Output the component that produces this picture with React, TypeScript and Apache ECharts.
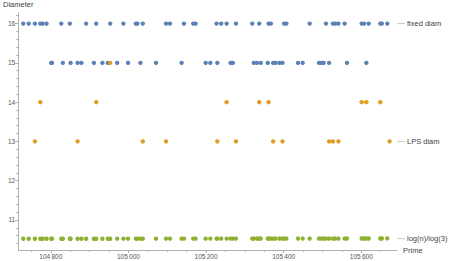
import React, { useEffect, useRef } from "react";
import * as echarts from "echarts";

const primes = [
  104729, 104743, 104759, 104773, 104779, 104789, 104801, 104803, 104827, 104831,
  104849, 104851, 104869, 104879, 104891, 104911, 104917, 104933, 104947, 104953,
  104971, 104987, 104999, 105019, 105023, 105031, 105037, 105071, 105097, 105107,
  105137, 105143, 105167, 105173, 105199, 105211, 105227, 105229, 105239, 105253,
  105263, 105269, 105277, 105319, 105323, 105331, 105337, 105341, 105359, 105361,
  105367, 105373, 105379, 105389, 105397, 105401, 105407, 105437, 105449, 105467,
  105491, 105497, 105503, 105509, 105517, 105527, 105533, 105541, 105557, 105563,
  105601, 105607, 105613, 105619, 105649, 105653, 105667,
];

const fixedDiam = [
  16, 16, 16, 16, 16, 16, 15, 15, 16, 15,
  16, 15, 15, 15, 16, 15, 16, 15, 15, 16,
  15, 16, 15, 16, 16, 15, 16, 15, 16, 16,
  15, 16, 16, 16, 15, 15, 16, 15, 16, 16,
  15, 15, 16, 16, 15, 15, 16, 15, 15, 16,
  16, 15, 15, 15, 15, 16, 16, 15, 15, 16,
  15, 15, 15, 16, 15, 16, 16, 16, 16, 15,
  16, 16, 15, 16, 16, 16, 16,
];

const logRatio = [
  10.522, 10.522, 10.522, 10.522, 10.522, 10.522, 10.522, 10.522, 10.522, 10.522,
  10.522, 10.523, 10.523, 10.523, 10.523, 10.523, 10.523, 10.523, 10.523, 10.523,
  10.524, 10.524, 10.524, 10.524, 10.524, 10.524, 10.524, 10.524, 10.525, 10.525,
  10.525, 10.525, 10.525, 10.525, 10.525, 10.526, 10.526, 10.526, 10.526, 10.526,
  10.526, 10.526, 10.526, 10.526, 10.527, 10.527, 10.527, 10.527, 10.527, 10.527,
  10.527, 10.527, 10.527, 10.527, 10.527, 10.527, 10.527, 10.527, 10.528, 10.528,
  10.528, 10.528, 10.528, 10.528, 10.528, 10.528, 10.528, 10.528, 10.528, 10.529,
  10.529, 10.529, 10.529, 10.529, 10.529, 10.529, 10.53,
];

const lpsPrimes = [
  104759, 104773, 104869, 104917, 104953, 105037, 105097, 105229, 105253, 105277,
  105337, 105361, 105373, 105397, 105517, 105527, 105541, 105601, 105613, 105649,
  105673,
];
const lpsDiam = [
  13, 14, 13, 14, 15, 13, 13, 13, 14, 13,
  14, 14, 13, 13, 13, 13, 13, 14, 14, 14,
  13,
];

const xTicks = [104800, 105000, 105200, 105400, 105600];
const xMinorTicks = [
  104750, 104850, 104900, 104950, 105050, 105100, 105150, 105250, 105300, 105350,
  105450, 105500, 105550, 105650,
];
const yTicks = [11, 12, 13, 14, 15, 16];
const yMinorTicks = [
  10.4, 10.6, 10.8, 11.2, 11.4, 11.6, 11.8, 12.2, 12.4, 12.6, 12.8, 13.2, 13.4,
  13.6, 13.8, 14.2, 14.4, 14.6, 14.8, 15.2, 15.4, 15.6, 15.8, 16.2,
];

const X_MIN = 104716;
const X_MAX = 105692;
const Y_MIN = 10.236;
const Y_MAX = 16.27;

const FONT = "'Liberation Sans', Arial, sans-serif";
const AXIS_COLOR = "#b0b0b0";
const LABEL_COLOR = "#555";

const fmt = (v: number) => {
  const s = String(Math.round(v));
  return s.slice(0, s.length - 3) + "\u2009" + s.slice(s.length - 3);
};

export default function App() {
  const ref = useRef<HTMLDivElement>(null);
  useEffect(() => {
    if (!ref.current) return;
    const chart = echarts.init(ref.current, null, { renderer: "svg" });
    const dot = 4.4;
    const option: any = {
      animation: false,
      backgroundColor: "#fff",
      textStyle: { fontFamily: FONT },
      grid: { left: 14, right: 52, top: 13, bottom: 11, containLabel: false },
      xAxis: [
        {
          type: "value",
          min: X_MIN,
          max: X_MAX,
          position: "bottom",
          name: "Prime",
          nameLocation: "end",
          nameGap: 6,
          nameTextStyle: { fontSize: 7.5, color: "#444", fontFamily: FONT },
          axisLine: { show: true, onZero: false, lineStyle: { color: AXIS_COLOR, width: 1 } },
          axisTick: { show: true, length: 3, customValues: xTicks, lineStyle: { color: AXIS_COLOR } },
          axisLabel: {
            show: true,
            customValues: xTicks,
            formatter: fmt,
            fontSize: 6.5,
            color: LABEL_COLOR,
            margin: 3,
            fontFamily: FONT,
          },
          splitLine: { show: false },
        },
        {
          type: "value",
          min: X_MIN,
          max: X_MAX,
          position: "bottom",
          axisLine: { show: false },
          axisTick: { show: true, length: 2, customValues: xMinorTicks, lineStyle: { color: AXIS_COLOR } },
          axisLabel: { show: false },
          splitLine: { show: false },
        },
      ],
      yAxis: [
        {
          type: "value",
          min: Y_MIN,
          max: Y_MAX,
          position: "left",
          name: "Diameter",
          nameLocation: "end",
          nameGap: 5,
          nameTextStyle: { fontSize: 7.5, color: "#444", fontFamily: FONT },
          axisLine: { show: true, onZero: false, lineStyle: { color: AXIS_COLOR, width: 1 } },
          axisTick: { show: true, length: 3, customValues: yTicks, lineStyle: { color: AXIS_COLOR } },
          axisLabel: {
            show: true,
            customValues: yTicks,
            fontSize: 6.5,
            color: LABEL_COLOR,
            margin: 3,
            fontFamily: FONT,
          },
          splitLine: { show: false },
        },
        {
          type: "value",
          min: Y_MIN,
          max: Y_MAX,
          position: "left",
          axisLine: { show: false },
          axisTick: { show: true, length: 2, customValues: yMinorTicks, lineStyle: { color: AXIS_COLOR } },
          axisLabel: { show: false },
          splitLine: { show: false },
        },
      ],
      series: [
        {
          type: "scatter",
          name: "fixed diam",
          xAxisIndex: 0,
          yAxisIndex: 0,
          symbolSize: dot,
          itemStyle: { color: "#5E81B5", opacity: 1 },
          data: primes.map((p, i) => [p, fixedDiam[i]]),
          z: 2,
        },
        {
          type: "scatter",
          name: "LPS diam",
          xAxisIndex: 0,
          yAxisIndex: 0,
          symbolSize: dot,
          itemStyle: { color: "#E19C24", opacity: 1 },
          data: lpsPrimes.map((p, i) => [p, lpsDiam[i]]),
          z: 3,
        },
        {
          type: "scatter",
          name: "log(n)/log(3)",
          xAxisIndex: 0,
          yAxisIndex: 0,
          symbolSize: dot,
          itemStyle: { color: "#8FB032", opacity: 1 },
          data: primes.map((p, i) => [p, logRatio[i]]),
          z: 4,
        },
      ],
    };
    chart.setOption(option);

    const labels = [
      { name: "fixed diam", y: 16 },
      { name: "LPS diam", y: 13 },
      { name: "log(n)/log(3)", y: 10.525 },
    ];
    const graphics: any[] = [];
    labels.forEach((l) => {
      const py = chart.convertToPixel({ yAxisIndex: 0 }, l.y) as number;
      graphics.push({
        type: "line",
        shape: { x1: 397, y1: py, x2: 405, y2: py },
        style: { stroke: "#c8c8c8", lineWidth: 1 },
        silent: true,
      });
      graphics.push({
        type: "text",
        x: 407,
        y: py,
        style: {
          text: l.name,
          fill: "#444",
          fontSize: 7.5,
          fontFamily: FONT,
          textVerticalAlign: "middle",
          verticalAlign: "middle",
        },
        silent: true,
      });
    });
    chart.setOption({ graphic: graphics });

    return () => chart.dispose();
  }, []);
  return (
    <div
      ref={ref}
      style={{ position: "fixed", left: 0, top: 0, width: 449, height: 261 }}
    />
  );
}
